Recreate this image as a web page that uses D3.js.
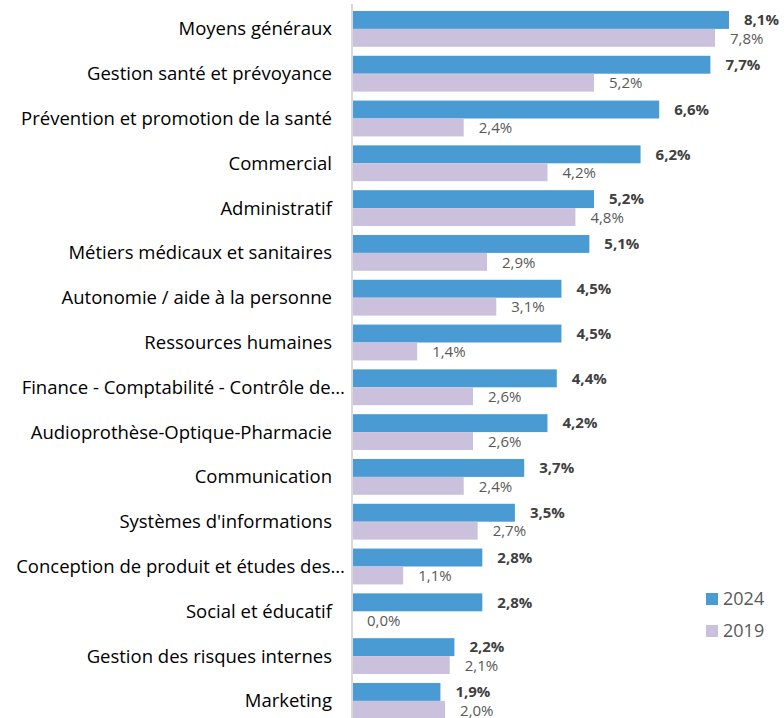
<!DOCTYPE html>
<html>
<head>
<meta charset="utf-8">
<script src="https://cdn.jsdelivr.net/npm/d3@7"></script>
<style>
  body { margin: 0; background: #fff; }
  svg { display: block; font-family: "Open Sans", Lato, sans-serif; }
</style>
</head>
<body>
<div id="chart"></div>
<script>
// catégories (de haut en bas)
const categories = [
  "Moyens généraux",
  "Gestion santé et prévoyance",
  "Prévention et promotion de la santé",
  "Commercial",
  "Administratif",
  "Métiers médicaux et sanitaires",
  "Autonomie / aide à la personne",
  "Ressources humaines",
  "Finance - Comptabilité - Contrôle de…",
  "Audioprothèse-Optique-Pharmacie",
  "Communication",
  "Systèmes d'informations",
  "Conception de produit et études des…",
  "Social et éducatif",
  "Gestion des risques internes",
  "Marketing"
];

const values2024 = [8.1, 7.7, 6.6, 6.2, 5.2, 5.1, 4.5, 4.5, 4.4, 4.2, 3.7, 3.5, 2.8, 2.8, 2.2, 1.9];
const values2019 = [7.8, 5.2, 2.4, 4.2, 4.8, 2.9, 3.1, 1.4, 2.6, 2.6, 2.4, 2.7, 1.1, 0.0, 2.1, 2.0];

const seriesNames = ["2024", "2019"];
const colors = ["#4a9bd3", "#cbc1dc"];

const width = 784, height = 718;
const x0 = 352;

const svg = d3.select("#chart").append("svg")
  .attr("width", width)
  .attr("height", height);

// échelles
const x = d3.scaleLinear().domain([0, 8.1]).range([x0, 729]);
const y = d3.scaleBand().domain(categories).range([6.5, 723.3])
  .paddingInner(0.2).paddingOuter(0.1);
const ySub = d3.scaleBand().domain(seriesNames).range([0, y.bandwidth()]);

const fmt = v => d3.format(".1f")(v).replace(".", ",") + "%";

const rows = categories.map((c, i) => ({ cat: c, vals: [values2024[i], values2019[i]] }));

const groups = svg.append("g")
  .selectAll("g")
  .data(rows)
  .enter().append("g")
  .attr("transform", d => `translate(0,${y(d.cat)})`);

// barres
groups.selectAll("rect")
  .data(d => d.vals.map((v, k) => ({ v, k })))
  .enter().append("rect")
  .attr("x", x0)
  .attr("y", d => ySub(seriesNames[d.k]))
  .attr("width", d => x(d.v) - x0)
  .attr("height", ySub.bandwidth())
  .attr("fill", d => colors[d.k]);

// étiquettes de valeurs
groups.selectAll("text.val")
  .data(d => d.vals.map((v, k) => ({ v, k })))
  .enter().append("text")
  .attr("class", "val")
  .attr("x", d => x(d.v) + 15)
  .attr("y", d => ySub(seriesNames[d.k]) + ySub.bandwidth() / 2 + (d.k === 1 ? 0.5 : 0))
  .attr("dy", "0.35em")
  .attr("font-size", 15)
  .attr("font-weight", d => d.k === 0 ? "bold" : "normal")
  .attr("fill", d => d.k === 0 ? "#404040" : "#595959")
  .text(d => fmt(d.v));

// étiquettes de catégories
groups.append("text")
  .attr("x", d => d.cat.endsWith("…") ? 345 : 332)
  .attr("y", y.bandwidth() / 2)
  .attr("dy", "0.35em")
  .attr("text-anchor", "end")
  .attr("font-size", 18.5)
  .attr("fill", "#000")
  .text(d => d.cat);

// axe vertical
svg.append("line")
  .attr("x1", x0).attr("x2", x0)
  .attr("y1", 4).attr("y2", height)
  .attr("stroke", "#d9d9d9")
  .attr("stroke-width", 2);

// légende
const legend = svg.append("g").attr("transform", "translate(706,593)");
seriesNames.forEach((s, k) => {
  legend.append("rect")
    .attr("x", 0).attr("y", k * 32)
    .attr("width", 12).attr("height", 12)
    .attr("fill", colors[k]);
  legend.append("text")
    .attr("x", 17).attr("y", k * 32 + 6)
    .attr("dy", "0.35em")
    .attr("font-size", 18)
    .attr("fill", "#595959")
    .text(s);
});
</script>
</body>
</html>
